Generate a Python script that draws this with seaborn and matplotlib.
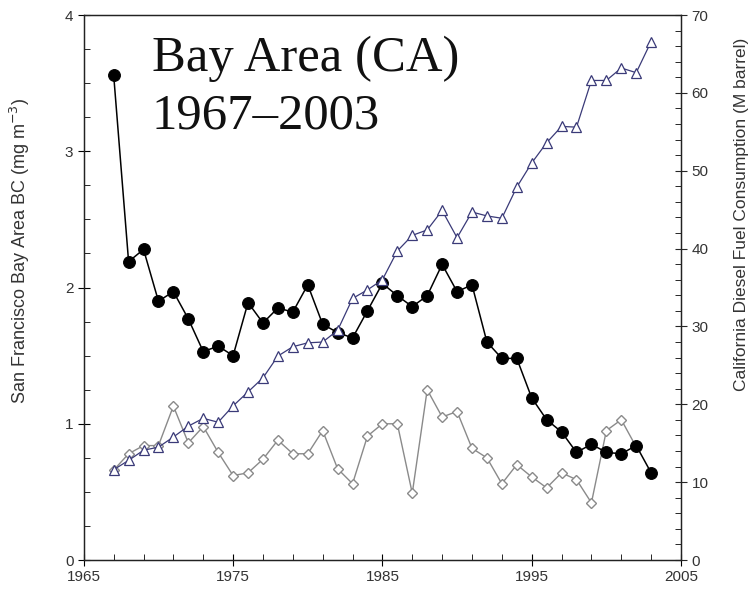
import matplotlib
matplotlib.use("Agg")
import matplotlib.pyplot as plt
from matplotlib.ticker import MultipleLocator, FixedLocator
import seaborn as sns
import pandas as pd

years = list(range(1967, 2004))

# Bay Area black carbon (mg m^-3), left axis
bc = [3.56, 2.19, 2.28, 1.90, 1.97, 1.77, 1.53, 1.57, 1.50, 1.89,
      1.74, 1.85, 1.82, 2.02, 1.73, 1.67, 1.63, 1.83, 2.03, 1.94,
      1.86, 1.94, 2.17, 1.97, 2.02, 1.60, 1.48, 1.48, 1.19, 1.03,
      0.94, 0.79, 0.85, 0.79, 0.78, 0.84, 0.64]

# Secondary BC estimate (grey diamonds), left axis, 1967-2002
bc_est = [0.66, 0.78, 0.84, 0.84, 1.13, 0.86, 0.98, 0.79, 0.62, 0.64,
          0.74, 0.88, 0.78, 0.78, 0.95, 0.67, 0.56, 0.91, 1.00, 1.00,
          0.49, 1.25, 1.05, 1.09, 0.82, 0.75, 0.56, 0.70, 0.61, 0.53,
          0.64, 0.59, 0.42, 0.95, 1.03, 0.83]

# California diesel fuel consumption (M barrel), right axis
diesel = [11.6, 12.8, 14.1, 14.5, 15.8, 17.2, 18.2, 17.7, 19.8, 21.6,
          23.4, 26.2, 27.4, 27.9, 28.0, 29.5, 33.6, 34.7, 36.0, 39.7,
          41.7, 42.4, 44.9, 41.4, 44.7, 44.2, 43.9, 47.9, 51.0, 53.6,
          55.7, 55.6, 61.6, 61.6, 63.2, 62.6, 66.6]

x_major = [1965, 1975, 1985, 1995, 2005]

df_bc = pd.DataFrame({"year": years, "value": bc})
df_est = pd.DataFrame({"year": years[:len(bc_est)], "value": bc_est})
df_diesel = pd.DataFrame({"year": years, "value": diesel})

sns.set_style("ticks")
plt.rcParams["font.family"] = ["Liberation Sans", "DejaVu Sans"]

fig = plt.figure(figsize=(7.55, 5.93), dpi=100)
ax = fig.add_axes([0.111, 0.0556, 0.791, 0.919])
ax2 = ax.twinx()

navy = "#3a3a78"
grey = "#8a8a8a"

sns.lineplot(data=df_est, x="year", y="value", ax=ax, color=grey, lw=1.0,
             marker="D", markersize=5, markerfacecolor="white",
             markeredgecolor=grey, markeredgewidth=1.0, zorder=2)
sns.lineplot(data=df_bc, x="year", y="value", ax=ax, color="black", lw=1.1,
             marker="o", markersize=8.5, markerfacecolor="black",
             markeredgecolor="black", zorder=3)
sns.lineplot(data=df_diesel, x="year", y="value", ax=ax2, color=navy, lw=0.9,
             marker="^", markersize=7.5, markerfacecolor="white",
             markeredgecolor=navy, markeredgewidth=0.9, zorder=3)

ax.set_xlim(1965, 2005)
ax.set_ylim(0, 4)
ax2.set_ylim(0, 70)

ax.xaxis.set_major_locator(FixedLocator(x_major))
ax.xaxis.set_minor_locator(FixedLocator(list(range(1967, 2005, 2))))
ax.yaxis.set_major_locator(MultipleLocator(1))
ax.yaxis.set_minor_locator(MultipleLocator(0.25))
ax2.yaxis.set_major_locator(MultipleLocator(10))
ax2.yaxis.set_minor_locator(MultipleLocator(2))

label_col = "#333333"
ax.tick_params(axis="both", which="major", direction="inout", length=8,
               width=0.8, labelsize=11, colors="black", labelcolor=label_col)
ax.tick_params(axis="both", which="minor", direction="in", length=4, width=0.7)
ax2.tick_params(axis="y", which="major", direction="inout", length=8,
                width=0.8, labelsize=11, labelcolor=label_col)
ax2.tick_params(axis="y", which="minor", direction="in", length=4, width=0.7)

for a in (ax, ax2):
    for s in a.spines.values():
        s.set_visible(True)
        s.set_linewidth(0.9)
        s.set_color("#222222")

ax.set_xlabel("")
ax.set_ylabel("San Francisco Bay Area BC (mg m$^{-3}$)", fontsize=13,
              color=label_col, va="center")
ax.yaxis.set_label_coords(-0.107, 0.567)
ax2.set_ylabel("California Diesel Fuel Consumption (M barrel)", fontsize=12.5,
               color=label_col, va="center")
ax2.yaxis.set_label_coords(1.102, 0.635)

ax.text(0.114, 0.962, "Bay Area (CA)\n1967\u20132003", transform=ax.transAxes,
        family=["Liberation Serif", "DejaVu Serif"], fontsize=36.5,
        va="top", ha="left", linespacing=1.3, color="#111111")

fig.savefig("out.png", dpi=100)
